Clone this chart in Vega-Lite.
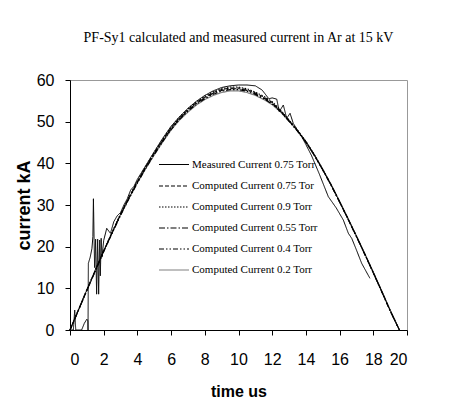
{
  "$schema": "https://vega.github.io/schema/vega-lite/v6.json",
  "width": 337,
  "height": 250,
  "autosize": "none",
  "padding": {"left": 70, "top": 80, "right": 59, "bottom": 75},
  "background": "white",
  "title": {
    "text": "PF-Sy1 calculated and measured current in Ar at 15 kV",
    "font": "Liberation Serif",
    "fontSize": 14,
    "fontWeight": "normal",
    "color": "black",
    "anchor": "middle",
    "offset": 27
  },
  "config": {
    "view": {"stroke": "#999999", "strokeWidth": 1},
    "axis": {
      "grid": false,
      "domainColor": "black",
      "tickColor": "black",
      "tickSize": 5,
      "labelFont": "Liberation Sans",
      "labelFontSize": 16,
      "labelColor": "black",
      "titleFont": "Liberation Sans",
      "titleFontWeight": "bold",
      "titleColor": "black"
    }
  },
  "datasets": {
    "computed": [
      {"t": 0, "c075": 0, "c09": 0, "c055": 0, "c04": 0, "c02": 0},
      {"t": 0.5, "c075": 4.8, "c09": 4.8, "c055": 4.7, "c04": 4.7, "c02": 4.9},
      {"t": 1, "c075": 9.6, "c09": 9.6, "c055": 9.5, "c04": 9.5, "c02": 9.7},
      {"t": 1.5, "c075": 14.3, "c09": 14.3, "c055": 14.2, "c04": 14.1, "c02": 14.4},
      {"t": 2, "c075": 19.0, "c09": 19.0, "c055": 18.9, "c04": 18.8, "c02": 19.0},
      {"t": 2.5, "c075": 23.4, "c09": 23.5, "c055": 23.3, "c04": 23.2, "c02": 23.4},
      {"t": 3, "c075": 27.8, "c09": 27.9, "c055": 27.7, "c04": 27.5, "c02": 27.6},
      {"t": 3.5, "c075": 31.8, "c09": 31.9, "c055": 31.7, "c04": 31.5, "c02": 31.6},
      {"t": 4, "c075": 35.6, "c09": 35.7, "c055": 35.5, "c04": 35.3, "c02": 35.3},
      {"t": 4.5, "c075": 39.2, "c09": 39.3, "c055": 39.0, "c04": 38.8, "c02": 38.8},
      {"t": 5, "c075": 42.5, "c09": 42.6, "c055": 42.3, "c04": 42.1, "c02": 42.0},
      {"t": 5.5, "c075": 45.6, "c09": 45.8, "c055": 45.4, "c04": 45.2, "c02": 45.1},
      {"t": 6, "c075": 48.5, "c09": 48.7, "c055": 48.3, "c04": 48.1, "c02": 48.0},
      {"t": 6.5, "c075": 50.9, "c09": 51.1, "c055": 50.7, "c04": 50.5, "c02": 50.4},
      {"t": 7, "c075": 52.9, "c09": 53.1, "c055": 52.7, "c04": 52.5, "c02": 52.3},
      {"t": 7.5, "c075": 54.6, "c09": 54.8, "c055": 54.4, "c04": 54.2, "c02": 54.0},
      {"t": 8, "c075": 55.9, "c09": 56.1, "c055": 55.7, "c04": 55.5, "c02": 55.3},
      {"t": 8.5, "c075": 57.0, "c09": 57.2, "c055": 56.8, "c04": 56.6, "c02": 56.3},
      {"t": 9, "c075": 57.7, "c09": 57.9, "c055": 57.5, "c04": 57.3, "c02": 57.0},
      {"t": 9.5, "c075": 58.1, "c09": 58.3, "c055": 57.9, "c04": 57.7, "c02": 57.4},
      {"t": 10, "c075": 58.1, "c09": 58.3, "c055": 57.9, "c04": 57.7, "c02": 57.4},
      {"t": 10.5, "c075": 57.7, "c09": 57.9, "c055": 57.5, "c04": 57.3, "c02": 57.0},
      {"t": 11, "c075": 56.9, "c09": 57.1, "c055": 56.7, "c04": 56.5, "c02": 56.3},
      {"t": 11.5, "c075": 55.9, "c09": 56.1, "c055": 55.7, "c04": 55.5, "c02": 55.3},
      {"t": 12, "c075": 54.6, "c09": 54.8, "c055": 54.4, "c04": 54.2, "c02": 54.1},
      {"t": 12.5, "c075": 52.6, "c09": 52.8, "c055": 52.5, "c04": 52.4, "c02": 52.3},
      {"t": 13, "c075": 50.3, "c09": 50.4, "c055": 50.2, "c04": 50.1, "c02": 50.1},
      {"t": 13.5, "c075": 47.9, "c09": 48.0, "c055": 47.8, "c04": 47.7, "c02": 47.8},
      {"t": 14, "c075": 45.2, "c09": 45.3, "c055": 45.1, "c04": 45.0, "c02": 45.2},
      {"t": 14.5, "c075": 42.0, "c09": 42.1, "c055": 41.9, "c04": 41.9, "c02": 42.1},
      {"t": 15, "c075": 38.5, "c09": 38.6, "c055": 38.4, "c04": 38.4, "c02": 38.6},
      {"t": 15.5, "c075": 34.8, "c09": 34.8, "c055": 34.7, "c04": 34.7, "c02": 34.9},
      {"t": 16, "c075": 30.8, "c09": 30.8, "c055": 30.7, "c04": 30.7, "c02": 30.9},
      {"t": 16.5, "c075": 26.7, "c09": 26.7, "c055": 26.6, "c04": 26.6, "c02": 26.8},
      {"t": 17, "c075": 22.5, "c09": 22.5, "c055": 22.4, "c04": 22.4, "c02": 22.6},
      {"t": 17.5, "c075": 18.2, "c09": 18.2, "c055": 18.1, "c04": 18.1, "c02": 18.3},
      {"t": 18, "c075": 13.8, "c09": 13.8, "c055": 13.7, "c04": 13.7, "c02": 13.9},
      {"t": 18.5, "c075": 9.3, "c09": 9.3, "c055": 9.2, "c04": 9.2, "c02": 9.4},
      {"t": 19, "c075": 4.7, "c09": 4.7, "c055": 4.6, "c04": 4.6, "c02": 4.8},
      {"t": 19.55, "c075": 0, "c09": 0, "c055": 0, "c04": 0, "c02": 0}
    ],
    "measured": [
      {"t": 0, "I": 0, "series": "m"},
      {"t": 0.2, "I": 0, "series": "m"},
      {"t": 0.28, "I": 4.8, "series": "m"},
      {"t": 0.34, "I": 0, "series": "m"},
      {"t": 0.69, "I": 0, "series": "m"},
      {"t": 0.85, "I": 1.6, "series": "m"},
      {"t": 1.0, "I": 2.6, "series": "m"},
      {"t": 1.06, "I": 2.2, "series": "m"},
      {"t": 1.07, "I": 0, "series": "m"},
      {"t": 1.09, "I": 16, "series": "m"},
      {"t": 1.2, "I": 17.5, "series": "m"},
      {"t": 1.3, "I": 19.5, "series": "m"},
      {"t": 1.36, "I": 22.4, "series": "m"},
      {"t": 1.39, "I": 31.5, "series": "m"},
      {"t": 1.46, "I": 15, "series": "m"},
      {"t": 1.52, "I": 21.8, "series": "m"},
      {"t": 1.58, "I": 8.6, "series": "m"},
      {"t": 1.64, "I": 21.8, "series": "m"},
      {"t": 1.7, "I": 8.6, "series": "m"},
      {"t": 1.76, "I": 21.6, "series": "m"},
      {"t": 1.8, "I": 13, "series": "m"},
      {"t": 1.85, "I": 22, "series": "m"},
      {"t": 1.9, "I": 17.5, "series": "m"},
      {"t": 2.0, "I": 21.5, "series": "m"},
      {"t": 2.18, "I": 24.4, "series": "m"},
      {"t": 2.4, "I": 23.2, "series": "m"},
      {"t": 2.6, "I": 26, "series": "m"},
      {"t": 2.8, "I": 27.4, "series": "m"},
      {"t": 3.0, "I": 28.2, "series": "m"},
      {"t": 3.2, "I": 30, "series": "m"},
      {"t": 3.4, "I": 31.5, "series": "m"},
      {"t": 3.6, "I": 33.6, "series": "m"},
      {"t": 3.8, "I": 34.5, "series": "m"},
      {"t": 4.0, "I": 36.2, "series": "m"},
      {"t": 4.5, "I": 39.5, "series": "m"},
      {"t": 5, "I": 42.8, "series": "m"},
      {"t": 5.5, "I": 46, "series": "m"},
      {"t": 6, "I": 48.9, "series": "m"},
      {"t": 6.5, "I": 51.2, "series": "m"},
      {"t": 7, "I": 53.2, "series": "m"},
      {"t": 7.5, "I": 54.9, "series": "m"},
      {"t": 8, "I": 56.3, "series": "m"},
      {"t": 8.5, "I": 57.4, "series": "m"},
      {"t": 9, "I": 58.2, "series": "m"},
      {"t": 9.5, "I": 58.6, "series": "m"},
      {"t": 10, "I": 58.8, "series": "m"},
      {"t": 10.5, "I": 58.8, "series": "m"},
      {"t": 11, "I": 58.6, "series": "m"},
      {"t": 11.4, "I": 57.6, "series": "m"},
      {"t": 11.8, "I": 55.5, "series": "m"},
      {"t": 12.0, "I": 55.7, "series": "m"},
      {"t": 12.27, "I": 55.4, "series": "m"},
      {"t": 12.42, "I": 52.4, "series": "m"},
      {"t": 12.66, "I": 54.0, "series": "m"},
      {"t": 12.86, "I": 50.8, "series": "m"},
      {"t": 13.06, "I": 52.0, "series": "m"},
      {"t": 13.25, "I": 49.6, "series": "m"},
      {"t": 13.75, "I": 46.4, "series": "m"},
      {"t": 14.0, "I": 44.5, "series": "m"},
      {"t": 14.34, "I": 41.8, "series": "m"},
      {"t": 14.8, "I": 37.4, "series": "m"},
      {"t": 15.33, "I": 32.0, "series": "m"},
      {"t": 15.8, "I": 29.3, "series": "m"},
      {"t": 16.22, "I": 26.4, "series": "m"},
      {"t": 16.52, "I": 23.2, "series": "m"},
      {"t": 16.72, "I": 22.0, "series": "m"},
      {"t": 17.0, "I": 19.2, "series": "m"},
      {"t": 17.31, "I": 16.0, "series": "m"},
      {"t": 17.8, "I": 12.4, "series": "m"}
    ]
  },
  "encoding": {
    "x": {
      "field": "t", "type": "quantitative",
      "scale": {"domain": [0, 20], "nice": false},
      "axis": {"values": [0, 2, 4, 6, 8, 10, 12, 14, 16, 18, 20], "title": "time us", "titleFontSize": 16, "labelPadding": 16, "titlePadding": 16}
    },
    "y": {
      "field": "I", "type": "quantitative",
      "scale": {"domain": [0, 60], "nice": false},
      "axis": {"values": [0, 10, 20, 30, 40, 50, 60], "title": "current kA", "titleFontSize": 18, "labelPadding": 11, "titlePadding": 3}
    },
    "color": {
      "field": "series", "type": "nominal",
      "scale": {
        "domain": ["m", "c075", "c09", "c055", "c04", "c02"],
        "range": ["#000000", "#000000", "#000000", "#000000", "#000000", "#808080"]
      },
      "legend": {
        "orient": "none",
        "legendX": 88,
        "legendY": 69,
        "title": null,
        "symbolType": "stroke",
        "symbolSize": 900,
        "labelFont": "Liberation Serif",
        "labelFontSize": 11,
        "labelColor": "black",
        "rowPadding": -1,
        "labelOffset": 2,
        "labelExpr": "{'m': 'Measured Current 0.75 Torr', 'c075': 'Computed Current 0.75 Tor', 'c09': 'Computed Current 0.9 Torr', 'c055': 'Computed Current 0.55 Torr', 'c04': 'Computed Current 0.4 Torr', 'c02': 'Computed Current 0.2 Torr'}[datum.value]"
      }
    },
    "strokeDash": {
      "field": "series", "type": "nominal",
      "scale": {
        "domain": ["m", "c075", "c09", "c055", "c04", "c02"],
        "range": [[1, 0], [4, 2], [1.5, 1.5], [6, 2, 1.5, 2], [5, 2, 1.5, 2, 1.5, 2], [1, 0]]
      }
    },
    "strokeWidth": {
      "field": "series", "type": "nominal",
      "scale": {
        "domain": ["m", "c075", "c09", "c055", "c04", "c02"],
        "range": [1, 1.2, 1.2, 1.2, 1.2, 2]
      }
    }
  },
  "layer": [
    {
      "data": {"name": "computed"},
      "transform": [
        {"fold": ["c02", "c075", "c09", "c055", "c04"], "as": ["series", "I"]}
      ],
      "mark": {"type": "line", "interpolate": "linear"}
    },
    {
      "data": {"name": "measured"},
      "mark": {"type": "line", "interpolate": "linear"}
    }
  ]
}
